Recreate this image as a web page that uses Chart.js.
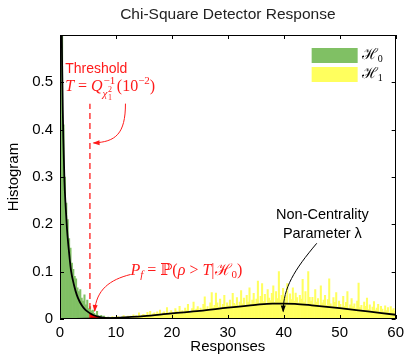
<!DOCTYPE html>
<html>
<head>
<meta charset="utf-8">
<script src="https://cdn.jsdelivr.net/npm/chart.js@4"></script>
<style>
  html, body { margin: 0; padding: 0; background: #fff; }
  #wrap { width: 409px; height: 356px; }
</style>
</head>
<body>
<div id="wrap"><canvas id="chart" width="409" height="356"></canvas></div>
<script>
// histogram bins are 0.25 wide
const binWidth = 0.25;

// H0 histogram (central chi-square, 1 dof), bins from 0 to 12
const h0Start = 0;
const h0Hist = [
  1.5, 0.62, 0.41, 0.30, 0.245, 0.21, 0.17, 0.15, 0.118, 0.105,
  0.09, 0.085, 0.066, 0.058, 0.062, 0.044, 0.038, 0.051, 0.03, 0.04,
  0.022, 0.026, 0.017, 0.019, 0.012, 0.009, 0.016, 0.007, 0.005, 0.008,
  0.004, 0.006, 0.003, 0, 0.004, 0, 0, 0.003, 0, 0,
  0, 0, 0, 0, 0.004, 0, 0, 0
];

// H1 histogram (non-central chi-square), bins from 7.5 to 60
const h1Start = 7.5;
const h1Hist = [
  0, 0, 0.004, 0, 0, 0.003, 0, 0.005, 0, 0.004,
  0, 0.005, 0.003, 0, 0.004, 0.007, 0, 0.004, 0.006, 0.003,
  0.006, 0.004, 0.009, 0.003, 0.007, 0.005, 0.013, 0.004, 0.008, 0.010,
  0.009, 0.006, 0.014, 0.008, 0.016, 0.007, 0.011, 0.013, 0.009, 0.015,
  0.011, 0.019, 0.008, 0.013, 0.015, 0.010, 0.024, 0.012, 0.014, 0.018,
  0.014, 0.010, 0.022, 0.016, 0.012, 0.027, 0.015, 0.018, 0.011, 0.023,
  0.018, 0.031, 0.016, 0.013, 0.022, 0.036, 0.017, 0.021, 0.026, 0.015,
  0.023, 0.018, 0.031, 0.047, 0.021, 0.026, 0.017, 0.034, 0.056, 0.024,
  0.029, 0.055, 0.034, 0.025, 0.042, 0.021, 0.031, 0.050, 0.026, 0.034,
  0.028, 0.040, 0.024, 0.054, 0.033, 0.030, 0.045, 0.025, 0.036, 0.060,
  0.032, 0.044, 0.029, 0.050, 0.036, 0.066, 0.031, 0.040, 0.054, 0.034,
  0.042, 0.080, 0.033, 0.048, 0.075, 0.037, 0.052, 0.030, 0.062, 0.044,
  0.039, 0.054, 0.070, 0.035, 0.058, 0.043, 0.100, 0.040, 0.050, 0.065,
  0.036, 0.047, 0.075, 0.033, 0.053, 0.041, 0.066, 0.038, 0.055, 0.045,
  0.034, 0.050, 0.042, 0.084, 0.036, 0.058, 0.030, 0.100, 0.046, 0.038,
  0.046, 0.031, 0.062, 0.036, 0.043, 0.026, 0.070, 0.034, 0.040, 0.050,
  0.029, 0.041, 0.085, 0.032, 0.026, 0.045, 0.035, 0.056, 0.024, 0.038,
  0.031, 0.023, 0.048, 0.027, 0.035, 0.058, 0.021, 0.030, 0.043, 0.026,
  0.032, 0.022, 0.038, 0.076, 0.024, 0.029, 0.018, 0.036, 0.027, 0.044,
  0.020, 0.030, 0.017, 0.025, 0.037, 0.019, 0.023, 0.031, 0.015, 0.027,
  0.021, 0.015, 0.028, 0.018, 0.024, 0.013, 0.026, 0.019, 0.022, 0.016
];

// density curves
const h0CurveX = [0.15, 0.2, 0.25, 0.3, 0.4, 0.5, 0.6, 0.8, 1, 1.25, 1.5, 1.75, 2, 2.5, 3, 3.5, 4, 4.5, 5, 5.5, 6, 7, 8, 9, 10, 12, 15];
const h0CurveY = [0.95, 0.8, 0.70, 0.62, 0.52, 0.44, 0.38, 0.29, 0.24, 0.19, 0.155, 0.125, 0.10, 0.072, 0.051, 0.037, 0.027, 0.020, 0.015, 0.011, 0.008, 0.0046, 0.0026, 0.0015, 0.0009, 0.0003, 0.0001];
const h1CurveX = [0, 5, 10, 15, 20, 25, 30, 35, 38, 40, 42, 45, 50, 55, 60];
const h1CurveY = [0, 0.0005, 0.0025, 0.006, 0.012, 0.017, 0.024, 0.030, 0.0325, 0.0325, 0.032, 0.029, 0.023, 0.016, 0.009];

// false alarm tail (red area) past the threshold
const threshold = 5.35;
const thresholdTop = 0.455;
const tailX = [5.35, 5.5, 6, 7, 8, 9];
const tailY = [0.0125, 0.011, 0.008, 0.0046, 0.0026, 0.0015];

const xTicks = [0, 10, 20, 30, 40, 50, 60];
const yTicks = [0, 0.1, 0.2, 0.3, 0.4, 0.5];

const chartTitle = 'Chi-Square Detector Response';
const seriesLabels = ['\u210B', '\u210B'];
const seriesSubs = ['0', '1'];
const green = '#80c064';
const yellow = '#ffff5e';

const pts = (xs, ys) => xs.map((x, i) => ({ x: x, y: ys[i] }));
const bins = (start, vals) => vals.map((v, i) => ({ x: start + (i + 0.5) * binWidth, y: v }));

const serif = "'Liberation Serif', 'DejaVu Serif', serif";
const sans = "'Liberation Sans', Arial, sans-serif";

// annotation geometry, in data units
const notes = {
  thrText: { x: 0.92, y: 0.528 },
  thrMath: { x: 0.92, y: 0.49 },
  thrArrow: [[11.7, 0.455], [11.7, 0.391], [9.95, 0.374], [6.0, 0.372]],
  pfText: { x: 12.6, y: 0.102 },
  pfArrow: [[12.6, 0.094], [8.9, 0.083], [6.5, 0.062], [6.2, 0.017]],
  ncText: { x: 46.9, y: 0.219 },
  ncArrow: [[45.9, 0.16], [41.9, 0.104], [39.9, 0.066], [39.9, 0.016]]
};

function arrow(ctx, chart, p, color) {
  const x = chart.scales.x, y = chart.scales.y;
  const q = p.map(d => [x.getPixelForValue(d[0]), y.getPixelForValue(d[1])]);
  ctx.strokeStyle = color;
  ctx.fillStyle = color;
  ctx.lineWidth = 1;
  ctx.beginPath();
  ctx.moveTo(q[0][0], q[0][1]);
  ctx.bezierCurveTo(q[1][0], q[1][1], q[2][0], q[2][1], q[3][0], q[3][1]);
  ctx.stroke();
  const a = Math.atan2(q[3][1] - q[2][1], q[3][0] - q[2][0]);
  ctx.save();
  ctx.translate(q[3][0], q[3][1]);
  ctx.rotate(a);
  ctx.beginPath();
  ctx.moveTo(1, 0);
  ctx.lineTo(-6, -2.5);
  ctx.lineTo(-6, 2.5);
  ctx.closePath();
  ctx.fill();
  ctx.restore();
}

// draws a run of text pieces; each piece: [text, font, dy]
function run(ctx, pieces, x, y) {
  for (const p of pieces) {
    ctx.font = p[1];
    ctx.fillText(p[0], x, y + (p[2] || 0));
    x += ctx.measureText(p[0]).width;
  }
  return x;
}

const decor = {
  id: 'decor',
  afterDatasetsDraw(chart) {
    const { ctx, chartArea: a, scales: { x, y } } = chart;
    ctx.save();

    // title over the plot area
    ctx.fillStyle = '#222';
    ctx.textAlign = 'center';
    ctx.textBaseline = 'middle';
    ctx.font = '15.5px ' + sans;
    ctx.fillText(chartTitle, (a.left + a.right) / 2, 15);

    // axes box and inward ticks
    ctx.strokeStyle = '#000';
    ctx.lineWidth = 1;
    ctx.strokeRect(Math.round(a.left) + 0.5, Math.round(a.top) + 0.5,
      Math.round(a.right - a.left) - 1, Math.round(a.bottom - a.top) - 1);
    ctx.beginPath();
    xTicks.forEach(v => {
      const px = Math.round(x.getPixelForValue(v)) + 0.5;
      ctx.moveTo(px, a.bottom); ctx.lineTo(px, a.bottom - 4);
      ctx.moveTo(px, a.top); ctx.lineTo(px, a.top + 4);
    });
    yTicks.forEach(v => {
      const py = Math.round(y.getPixelForValue(v)) + 0.5;
      ctx.moveTo(a.left, py); ctx.lineTo(a.left + 4, py);
      ctx.moveTo(a.right, py); ctx.lineTo(a.right - 4, py);
    });
    ctx.stroke();

    // legend
    ctx.textAlign = 'left';
    const lx = a.right - 84, ly = a.top + 13;
    [green, yellow].forEach((c, i) => {
      ctx.fillStyle = c;
      ctx.fillRect(lx, ly + i * 19, 46, 15);
      ctx.fillStyle = '#000';
      run(ctx, [[seriesLabels[i], '15px ' + serif, 0], [seriesSubs[i], '10px ' + serif, 4]], lx + 50, ly + i * 19 + 7);
    });

    const red = '#ff1a1a';

    // threshold label
    ctx.fillStyle = red;
    ctx.font = '14px ' + sans;
    ctx.fillText('Threshold', x.getPixelForValue(notes.thrText.x), y.getPixelForValue(notes.thrText.y));
    let mx = x.getPixelForValue(notes.thrMath.x), my = y.getPixelForValue(notes.thrMath.y);
    const it = 'italic 16px ' + serif, rm = '16px ' + serif;
    mx = run(ctx, [['T', it], [' = ', rm], ['Q', it]], mx, my);
    ctx.font = '11px ' + serif;
    ctx.fillText('\u22121', mx + 1, my - 6);
    const supW = ctx.measureText('\u22121').width;
    ctx.font = 'italic 11px ' + serif;
    ctx.fillText('\u03C7', mx, my + 7);
    const chiW = ctx.measureText('\u03C7').width;
    ctx.font = '8px ' + serif;
    ctx.fillText('2', mx + chiW + 0.5, my + 3);
    ctx.fillText('1', mx + chiW + 0.5, my + 11);
    mx += Math.max(supW + 1, chiW + 6) + 1.5;
    run(ctx, [['(10', rm], ['\u22122', '11px ' + serif, -6], [')', rm]], mx, my);
    arrow(ctx, chart, notes.thrArrow, red);

    // false alarm label
    ctx.fillStyle = red;
    run(ctx, [['P', it], ['f', 'italic 11px ' + serif, 4], [' = ', rm], ['\u2119', rm], ['(', rm], ['\u03C1', it],
      [' > ', rm], ['T', it], ['|', rm], ['\u210B', rm], ['0', '11px ' + serif, 4], [')', rm]],
      x.getPixelForValue(notes.pfText.x), y.getPixelForValue(notes.pfText.y));
    arrow(ctx, chart, notes.pfArrow, red);

    // non-centrality label
    ctx.fillStyle = '#000';
    ctx.textAlign = 'center';
    ctx.font = '14.5px ' + sans;
    const nx = x.getPixelForValue(notes.ncText.x), ny = y.getPixelForValue(notes.ncText.y);
    ctx.fillText('Non-Centrality', nx, ny);
    ctx.fillText('Parameter \u03BB', nx, ny + 19);
    arrow(ctx, chart, notes.ncArrow, '#000');

    ctx.restore();
  }
};

Chart.defaults.font.family = sans;
Chart.defaults.color = '#000';

new Chart(document.getElementById('chart'), {
  type: 'bar',
  data: {
    datasets: [
      { type: 'line', data: pts(h0CurveX, h0CurveY), borderColor: '#000', borderWidth: 1.8, pointRadius: 0, cubicInterpolationMode: 'monotone', order: 0 },
      { type: 'line', data: pts(h1CurveX, h1CurveY), borderColor: '#000', borderWidth: 1.8, pointRadius: 0, cubicInterpolationMode: 'monotone', order: 0 },
      { type: 'line', data: pts([threshold, threshold], [0, thresholdTop]), borderColor: '#ff1a1a', borderWidth: 1.3, borderDash: [6, 4], pointRadius: 0, order: 0 },
      { type: 'line', data: pts(tailX, tailY), borderColor: '#ff0000', borderWidth: 0, backgroundColor: '#ff0000', fill: 'origin', pointRadius: 0, cubicInterpolationMode: 'monotone', order: 1 },
      { label: 'H0', data: bins(h0Start, h0Hist), backgroundColor: green, grouped: false, barPercentage: 1, categoryPercentage: 1, order: 2 },
      { label: 'H1', data: bins(h1Start, h1Hist), backgroundColor: yellow, grouped: false, barPercentage: 1, categoryPercentage: 1, order: 3 }
    ]
  },
  options: {
    responsive: false,
    animation: false,
    events: [],
    layout: { padding: { right: 10, left: 0, bottom: 0, top: 35 } },
    scales: {
      x: {
        type: 'linear', min: 0, max: 60, offset: false,
        grid: { display: false, drawTicks: false }, border: { display: false },
        afterBuildTicks: s => { s.ticks = xTicks.map(v => ({ value: v })); },
        ticks: { font: { size: 15 }, padding: 5, maxRotation: 0 },
        title: { display: true, text: 'Responses', font: { size: 15 }, padding: 0 },
        afterFit: s => { s.height = 37; }
      },
      y: {
        min: 0, max: 0.6,
        grid: { display: false, drawTicks: false }, border: { display: false },
        afterBuildTicks: s => { s.ticks = yTicks.map(v => ({ value: v })); },
        ticks: { font: { size: 15 }, padding: 7, callback: v => v === 0 ? '0' : v.toFixed(1) },
        title: { display: true, text: 'Histogram', font: { size: 15 }, padding: { top: 5, bottom: 0 } },
        afterFit: s => { s.width = 60; }
      }
    },
    plugins: {
      legend: { display: false },
      tooltip: { enabled: false },
      title: { display: false }
    }
  },
  plugins: [decor]
});
</script>
</body>
</html>
